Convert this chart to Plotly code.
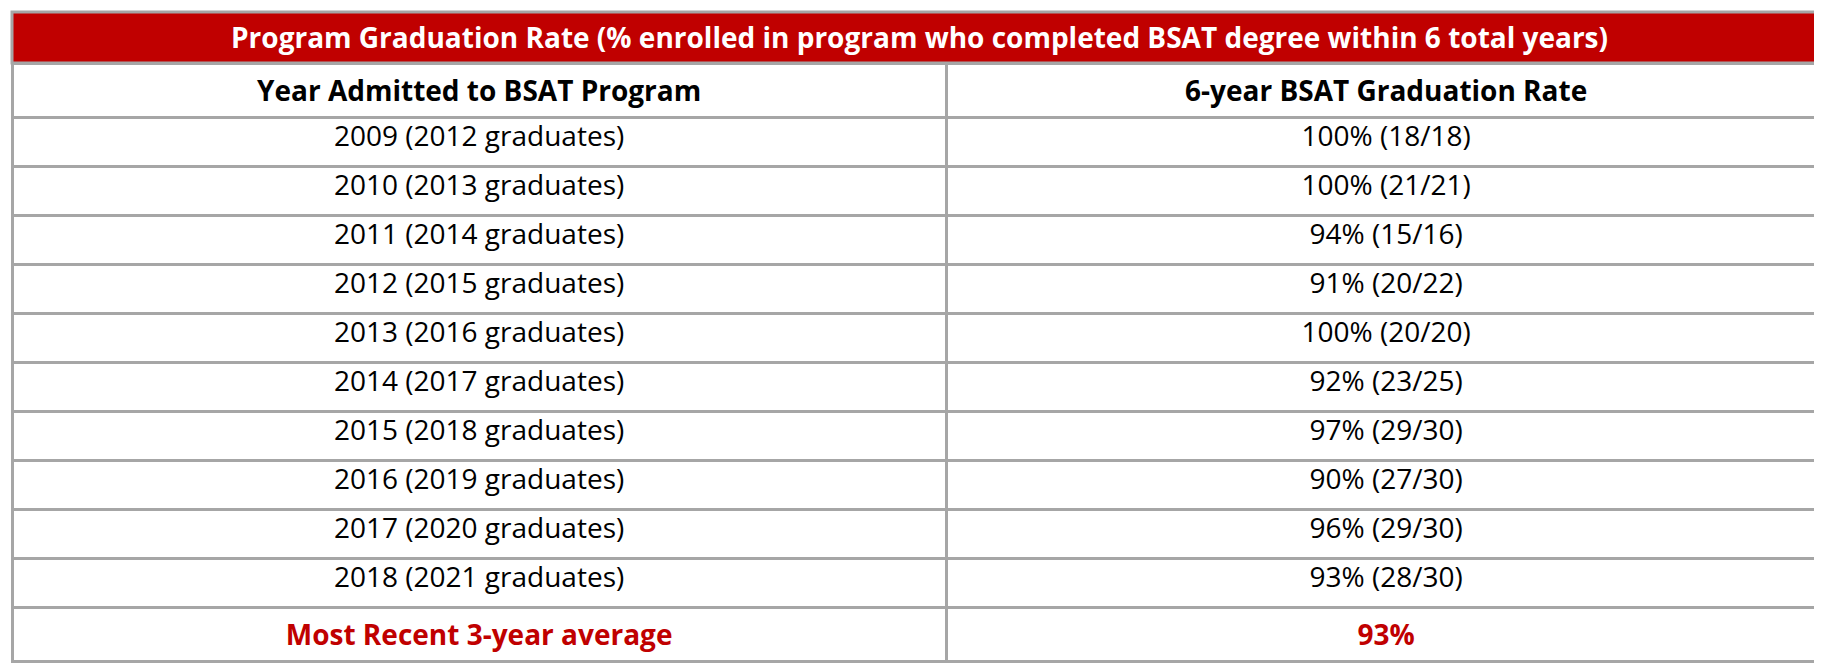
import plotly.graph_objects as go

title = "Program Graduation Rate (% enrolled in program who completed BSAT degree within 6 total years)"
headers = ["Year Admitted to BSAT Program", "6-year BSAT Graduation Rate"]
years = ["2009 (2012 graduates)", "2010 (2013 graduates)", "2011 (2014 graduates)",
         "2012 (2015 graduates)", "2013 (2016 graduates)", "2014 (2017 graduates)",
         "2015 (2018 graduates)", "2016 (2019 graduates)", "2017 (2020 graduates)",
         "2018 (2021 graduates)"]
rates = ["100% (18/18)", "100% (21/21)", "94% (15/16)", "91% (20/22)", "100% (20/20)",
         "92% (23/25)", "97% (29/30)", "90% (27/30)", "96% (29/30)", "93% (28/30)"]
avg_label = "Most Recent 3-year average"
avg_value = "93%"

RED = "#C00000"
GRID = "#A6A6A6"
H = 664
ROW = 49
plot_h = H - 8
FS = 28

col1 = years + ["<b>" + avg_label + "</b>"]
col2 = rates + ["<b>" + avg_value + "</b>"]
font_colors = ["black"] * len(years) + [RED]

fig = go.Figure(go.Table(
    domain=dict(x=[0, 1], y=[0, 1 - (ROW + 2) / plot_h]),
    columnwidth=[0.515, 0.485],
    header=dict(values=["<b>" + h + "</b>" for h in headers], height=ROW,
                fill_color="white", line=dict(color=GRID, width=3),
                font=dict(family="Open Sans", size=FS, color="black"), align="center"),
    cells=dict(values=[col1, col2], height=ROW,
               fill_color="white", line=dict(color=GRID, width=3),
               font=dict(family="Open Sans", size=FS, color=[font_colors, font_colors]),
               align="center"),
))

fig.add_shape(type="rect", xref="paper", yref="paper", x0=0, x1=1,
              y0=1 - (ROW + 2) / plot_h, y1=1, fillcolor=RED, line=dict(color=GRID, width=3))
fig.add_annotation(xref="paper", yref="paper", x=0.5, y=1 - (ROW + 2) / 2 / plot_h,
                   xanchor="center", yanchor="middle",
                   text="<b>" + title + "</b>", showarrow=False,
                   font=dict(family="Open Sans", size=FS, color="white"))

fig.update_layout(width=1822, height=H, margin=dict(l=4, r=4, t=4, b=4),
                  paper_bgcolor="white", plot_bgcolor="white")
fig.write_html("out.html")
